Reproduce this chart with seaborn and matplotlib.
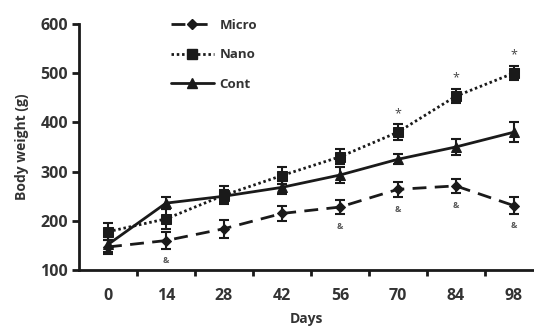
import matplotlib
matplotlib.use("Agg")
import matplotlib.pyplot as plt
import seaborn as sns
import pandas as pd
from matplotlib.lines import Line2D

days = ["0", "14", "28", "42", "56", "70", "84", "98"]
micro = [147, 160, 184, 215, 228, 264, 271, 231]
micro_err = [14, 18, 18, 15, 14, 15, 15, 17]
nano = [178, 204, 252, 292, 330, 380, 453, 500]
nano_err = [17, 20, 18, 18, 15, 16, 14, 14]
cont = [152, 236, 250, 268, 293, 325, 350, 380]
cont_err = [15, 12, 12, 13, 17, 10, 17, 20]
star_idx = [5, 6, 7]
amp_idx = [1, 4, 5, 6, 7]

sns.set_theme(style="ticks")
plt.rcParams['font.family'] = ['Open Sans', 'DejaVu Sans']

fig = plt.figure(figsize=(5.34, 3.27), dpi=100)
ax = fig.add_axes([0.148, 0.174, 0.852, 0.753])

x = list(range(len(days)))
col = "#1a1a1a"
series = [
    ("Micro", micro, micro_err, (0, (5, 3)), "D", 5.5),
    ("Nano", nano, nano_err, (0, (0.9, 1.0)), "s", 6.5),
    ("Cont", cont, cont_err, "-", "^", 6.5),
]
handles = []
for name, vals, errs, ls, mk, ms in series:
    df = pd.DataFrame({"x": x, "y": vals})
    n_before = len(ax.lines)
    sns.lineplot(data=df, x="x", y="y", ax=ax, color=col, linewidth=2,
                 marker=mk, markersize=ms, markeredgecolor=col, legend=False)
    for ln in ax.lines[n_before:]:
        ln.set_linestyle(ls)
    ax.errorbar(x, vals, yerr=errs, fmt="none", ecolor=col, elinewidth=1.5,
                capsize=3.5, capthick=1.5)
    h = Line2D([0], [0], color=col, linewidth=2, marker=mk, markersize=ms,
               linestyle=ls)
    handles.append(h)

for i in star_idx:
    ax.text(i, nano[i] + 38, "*", ha="center", va="center", fontsize=9, color="#444")
for i in amp_idx:
    ax.text(i, micro[i] - 40, "&", ha="center", va="center", fontsize=6,
            color="#555", fontweight="bold")

ax.set_xlim(-0.5, 7.35)
ax.set_ylim(100, 600)
ax.set_yticks([100, 200, 300, 400, 500, 600])
ax.set_xticks([i + 0.5 for i in range(7)])
ax.set_xticklabels([])
ax.set_xticks(x, minor=True)
ax.set_xticklabels(days, minor=True)
ax.tick_params(axis="x", which="minor", length=0, pad=13)
ax.tick_params(axis="x", which="major", length=4, width=2, direction="out", color=col)
ax.tick_params(axis="y", length=5, width=2, direction="out", color=col, pad=3)
for lab in ax.get_xticklabels(minor=True) + ax.get_yticklabels():
    lab.set_fontsize(11.5)
    lab.set_fontweight("bold")
    lab.set_color("#333")

sns.despine(ax=ax, top=True, right=True)
for sp in ["left", "bottom"]:
    ax.spines[sp].set_linewidth(2)
    ax.spines[sp].set_color(col)

ax.set_xlabel("Days", fontsize=10, fontweight="bold", color="#333", labelpad=6)
ax.set_ylabel("Body weight (g)", fontsize=10, fontweight="bold", color="#333", labelpad=8)

leg = ax.legend(handles, ["Micro", "Nano", "Cont"], loc="upper left",
                bbox_to_anchor=(0.175, 1.068), frameon=False, labelspacing=1.25,
                handlelength=3.3, handletextpad=0.4, fontsize=9.5)
for t in leg.get_texts():
    t.set_fontweight("bold")
    t.set_color("#333")

fig.savefig("out.png", dpi=100)
